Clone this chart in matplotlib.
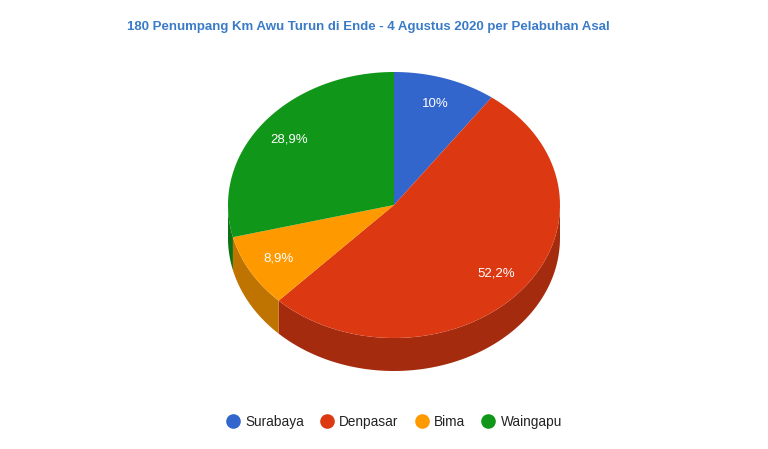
import numpy as np
import matplotlib.pyplot as plt
from matplotlib.patches import Polygon
from matplotlib.lines import Line2D
import matplotlib.colors as mcolors

# Data
ports = ["Surabaya", "Denpasar", "Bima", "Waingapu"]
passengers = [18, 94, 16, 52]
labels = ["10%", "52,2%", "8,9%", "28,9%"]
colors = ["#3366cc", "#dc3912", "#ff9900", "#109618"]
title = "180 Penumpang Km Awu Turun di Ende - 4 Agustus 2020 per Pelabuhan Asal"

plt.rcParams['font.family'] = ['Liberation Sans', 'DejaVu Sans']

fig = plt.figure(figsize=(7.68, 4.49), dpi=100)
ax = fig.add_axes([0, 0, 1, 1])
ax.set_xlim(0, 768)
ax.set_ylim(449, 0)
ax.axis("off")

# pie geometry (pixels)
cx, cy = 394, 205
rx, ry = 166, 133
depth = 33


def arc(a0, a1, dy=0, n=80):
    t = np.radians(np.linspace(a0, a1, n))
    return np.column_stack([cx + rx * np.sin(t), cy - ry * np.cos(t) + dy])


def darker(c, f=0.75):
    r, g, b = mcolors.to_rgb(c)
    return (r * f, g * f, b * f)


fracs = np.array(passengers) / sum(passengers)
bounds = np.concatenate([[0], np.cumsum(fracs) * 360])

# side walls (front half only)
for i in range(len(ports)):
    a0 = max(bounds[i], 90)
    a1 = min(bounds[i + 1], 270)
    if a1 <= a0:
        continue
    top = arc(a0, a1)
    bot = arc(a0, a1, dy=depth)[::-1]
    ax.add_patch(Polygon(np.vstack([top, bot]), closed=True,
                         facecolor=darker(colors[i]), edgecolor="none"))

# top faces
for i in range(len(ports)):
    pts = np.vstack([[cx, cy], arc(bounds[i], bounds[i + 1])])
    ax.add_patch(Polygon(pts, closed=True, facecolor=colors[i],
                         edgecolor="none"))
    mid = np.radians((bounds[i] + bounds[i + 1]) / 2)
    lx = cx + 0.8 * rx * np.sin(mid)
    ly = cy - 0.8 * ry * np.cos(mid)
    ax.text(lx, ly, labels[i], color="white", fontsize=9.5,
            ha="center", va="center")

ax.text(127, 27, title, color="#3a7bc8", fontsize=9.5, fontweight="bold",
        ha="left", va="center")

handles = [Line2D([], [], marker="o", linestyle="none", markersize=9.5,
                  markerfacecolor=c, markeredgecolor=c) for c in colors]
fig.legend(handles, ports, loc="center", bbox_to_anchor=(394 / 768, 1 - 422 / 449),
           ncol=4, frameon=False, fontsize=9.8, handletextpad=0.4,
           handlelength=1.0, columnspacing=1.2, labelcolor="#222222")

plt.savefig("out.png", dpi=100)
